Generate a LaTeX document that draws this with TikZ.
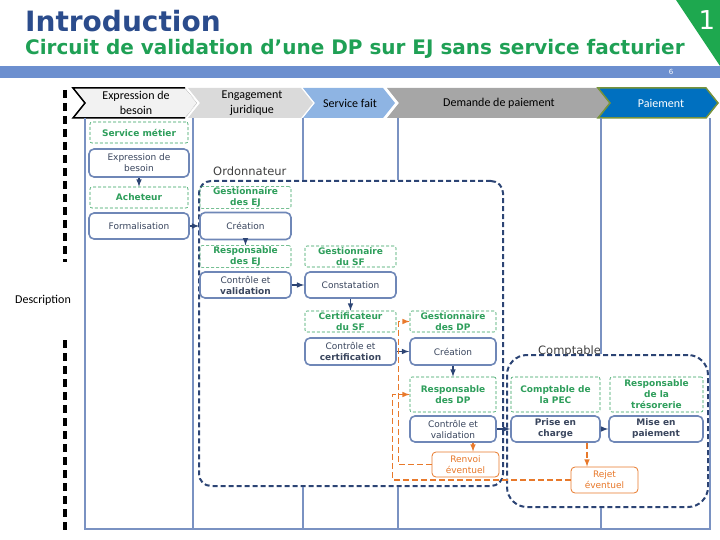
\documentclass[tikz,border=0pt]{standalone}
\usepackage{fontspec}
\setmainfont{DejaVu Sans}
\newfontfamily\calfont{Carlito}
\definecolor{navyline}{HTML}{2C4474}
\definecolor{laneblue}{HTML}{7A92C2}
\definecolor{taskblue}{HTML}{6F87B7}
\definecolor{tasktext}{HTML}{3A465E}
\definecolor{rolegreen}{HTML}{2E9E5B}
\definecolor{backorange}{HTML}{E8792B}
\definecolor{titleblue}{HTML}{2B4C8C}
\definecolor{titlegreen}{HTML}{1FA055}
\definecolor{bargreen}{HTML}{1EA84F}
\definecolor{barblue}{HTML}{6C8FCF}
\definecolor{steplight}{HTML}{F2F2F2}
\definecolor{stepgray}{HTML}{DADADA}
\definecolor{stepblue}{HTML}{8EB4E3}
\definecolor{stepdark}{HTML}{A6A6A6}
\definecolor{payfill}{HTML}{0070C0}
\definecolor{payborder}{HTML}{77933C}

\begin{document}
\begin{tikzpicture}[x=1pt, y=-1pt,
    lane/.style={draw=laneblue, line width=1.5pt},
    task/.style={draw=taskblue, line width=1.6pt, rounded corners=5pt, fill=white,
      text=tasktext, align=center, inner sep=1pt, font=\fontsize{9}{11}\selectfont},
    role/.style={draw=rolegreen, dash pattern=on 3pt off 2pt, line width=0.6pt,
      rounded corners=2pt, text=rolegreen, align=center, inner sep=1pt,
      font=\fontsize{9}{11}\selectfont\bfseries},
    retour/.style={draw=backorange, line width=0.8pt, rounded corners=4pt, fill=white,
      text=backorange, align=center, inner sep=1pt, font=\fontsize{9}{11}\selectfont},
    flow/.style={draw=navyline, line width=1.5pt, -latex},
    backflow/.style={draw=backorange, line width=1.5pt, dash pattern=on 6pt off 3pt, -latex},
    actor/.style={draw=navyline, line width=2pt, dash pattern=on 5pt off 3pt},
    stepname/.style={font=\calfont\fontsize{12}{14.5}\selectfont, align=center, inner sep=0pt}
  ]
  \useasboundingbox (0,0) rectangle (720,540);

  % title
  \fill[barblue] (0,66) rectangle (720,78);
  \fill[bargreen] (676,0) -- (720,0) -- (720,66) -- cycle;
  \node[text=white, font=\fontsize{26}{26}\selectfont] (num) at (707,20) {1};
  \node[text=white, font=\fontsize{7}{8}\selectfont] (page) at (671,72) {6};
  \node[anchor=base west, inner sep=0pt, text=titleblue,
    font=\fontsize{28}{30}\selectfont\bfseries] (titre) at (25,32) {Introduction};
  \node[anchor=base west, inner sep=0pt, text=titlegreen,
    font=\fontsize{20}{22}\selectfont\bfseries] (soustitre) at (25,55)
    {Circuit de validation d’une DP sur EJ sans service facturier};

  % steps
  \fill[steplight] (73,88) -- (185,88) -- (197,103) -- (185,118) -- (73,118) -- (85,103) -- cycle;
  \draw[black, line width=1.5pt] (185,88) -- (73,88) -- (85,103) -- (73,118) -- (185,118);
  \draw[gray, densely dotted] (185,88) -- (197,103) -- (185,118);
  \foreach \a/\b/\c in {188/313/stepgray, 303/395/stepblue, 387/610/stepdark}
    \fill[\c] (\a,88) -- ({\b-12},88) -- (\b,103) -- ({\b-12},118) -- (\a,118) -- ({\a+12},103) -- cycle;
  \filldraw[fill=payfill, draw=payborder, line width=1.5pt]
    (598,88) -- (706,88) -- (718,103) -- (706,118) -- (598,118) -- (610,103) -- cycle;
  \node[stepname] (stexp) at (136,103) {Expression de\\besoin};
  \node[stepname] (steng) at (252,103) {Engagement\\juridique};
  \node[stepname] (stsf) at (350,103) {Service fait};
  \node[stepname] (stdp) at (499,103) {Demande de paiement};
  \node[stepname, text=white] (stpay) at (661,103) {Paiement};

  % actors
  \node[actor, rounded corners=12pt, minimum width=304pt, minimum height=305pt] (ordo) at (351,333.5) {};
  \node[anchor=base west, inner sep=0pt, text=black!75, font=\fontsize{11.5}{13}\selectfont] (ordolab) at (213,176) {Ordonnateur};
  \node[actor, rounded corners=20pt, minimum width=201pt, minimum height=152pt] (compta) at (607.5,431) {};
  \node[anchor=base west, inner sep=0pt, text=black!75, font=\fontsize{11.5}{13}\selectfont] (comptalab) at (538,354) {Comptable};

  % lanes
  \draw[lane] (85,118) -- (85,529) -- (710,529) -- (710,118);
  \draw[lane] (193,118) -- (193,529);
  \draw[lane] (303,118) -- (303,0 |- ordo.north) (303,0 |- ordo.south) -- (303,529);
  \draw[lane] (398,118) -- (398,0 |- ordo.north) (398,0 |- ordo.south) -- (398,529);
  \draw[lane] (601,118) -- (601,0 |- compta.north) (601,0 |- compta.south) -- (601,529);

  % description
  \node[font=\calfont\fontsize{12}{14}\selectfont] (descr) at (43,300) {Description};
  \draw[black, line width=3.5pt, dash pattern=on 8pt off 5pt] (65,90) -- (65,262) (65,340) -- (65,532);

  % service metier
  \node[role, minimum width=98pt, minimum height=21pt] (svcmet) at (139,132.5) {Service métier};
  \node[task, minimum width=100pt, minimum height=28pt] (expbes) at (139,163) {Expression de\\besoin};
  \node[role, minimum width=98pt, minimum height=21pt] (acheteur) at (139,197.5) {Acheteur};
  \node[task, minimum width=100pt, minimum height=26pt] (formal) at (139,226) {Formalisation};

  % ordonnateur
  \node[role, minimum width=91pt, minimum height=21pt] (gestej) at (245.5,197.5) {Gestionnaire\\des EJ};
  \node[task, minimum width=91pt, minimum height=27pt] (creej) at (245.5,226) {Création};
  \node[role, minimum width=91pt, minimum height=21pt] (respej) at (245.5,256.5) {Responsable\\des EJ};
  \node[task, minimum width=91pt, minimum height=26pt] (ctrlej) at (245.5,285) {Contrôle et\\\textbf{validation}};
  \node[role, minimum width=91pt, minimum height=21pt] (gestsf) at (350.5,256.5) {Gestionnaire\\du SF};
  \node[task, minimum width=91pt, minimum height=26pt] (constat) at (350.5,285) {Constatation};
  \node[role, minimum width=91pt, minimum height=21pt] (certsf) at (350.5,321.5) {Certificateur\\du SF};
  \node[task, minimum width=91pt, minimum height=27pt] (ctrlsf) at (350.5,351.5) {Contrôle et\\\textbf{certification}};
  \node[role, minimum width=86pt, minimum height=21pt] (gestdp) at (453,321.5) {Gestionnaire\\des DP};
  \node[task, minimum width=86pt, minimum height=27pt] (credp) at (453,351.5) {Création};
  \node[role, minimum width=86pt, minimum height=35pt] (respdp) at (453,394.5) {Responsable\\des DP};
  \node[task, minimum width=86pt, minimum height=26pt] (ctrldp) at (453,429) {Contrôle et\\validation};
  \node[retour, minimum width=67pt, minimum height=25pt] (renvoi) at (465.5,464.5) {Renvoi\\éventuel};

  % comptable
  \node[role, minimum width=89pt, minimum height=35pt] (pec) at (555.5,394.5) {Comptable de\\la PEC};
  \node[role, minimum width=93pt, minimum height=35pt] (treso) at (656.5,394.5) {Responsable\\de la\\trésorerie};
  \node[task, minimum width=89pt, minimum height=26pt, font=\fontsize{9}{11}\selectfont\bfseries] (prise) at (555.5,429) {Prise en\\charge};
  \node[task, minimum width=94pt, minimum height=26pt, font=\fontsize{9}{11}\selectfont\bfseries] (mise) at (656,429) {Mise en\\paiement};
  \node[retour, minimum width=67pt, minimum height=26pt] (rejet) at (604.5,480) {Rejet\\éventuel};

  % flows
  \draw[flow] (expbes) -- (acheteur);
  \draw[flow] (formal) -- (creej);
  \draw[flow] (creej) -- (respej);
  \draw[flow] (ctrlej) -- (constat);
  \draw[flow] (constat) -- (certsf);
  \draw[flow] (ctrlsf) -- (credp);
  \draw[flow] (credp) -- (respdp);
  \draw[flow] (ctrldp) -- (prise);
  \draw[flow] (prise) -- (mise);

  % retours
  \draw[backflow] ([xshift=20pt]ctrldp.south) -- ([xshift=20pt]ctrldp.south |- renvoi.north);
  \draw[backflow] ([xshift=31.5pt]prise.south) -- ([xshift=31.5pt]prise.south |- rejet.north);
  \draw[backflow] (renvoi.west) -- ++(-33,0) |- (gestdp.west);
  \draw[backflow] (rejet.west) -| ([xshift=-17pt]respdp.west) -- (respdp.west);
\end{tikzpicture}
\end{document}
